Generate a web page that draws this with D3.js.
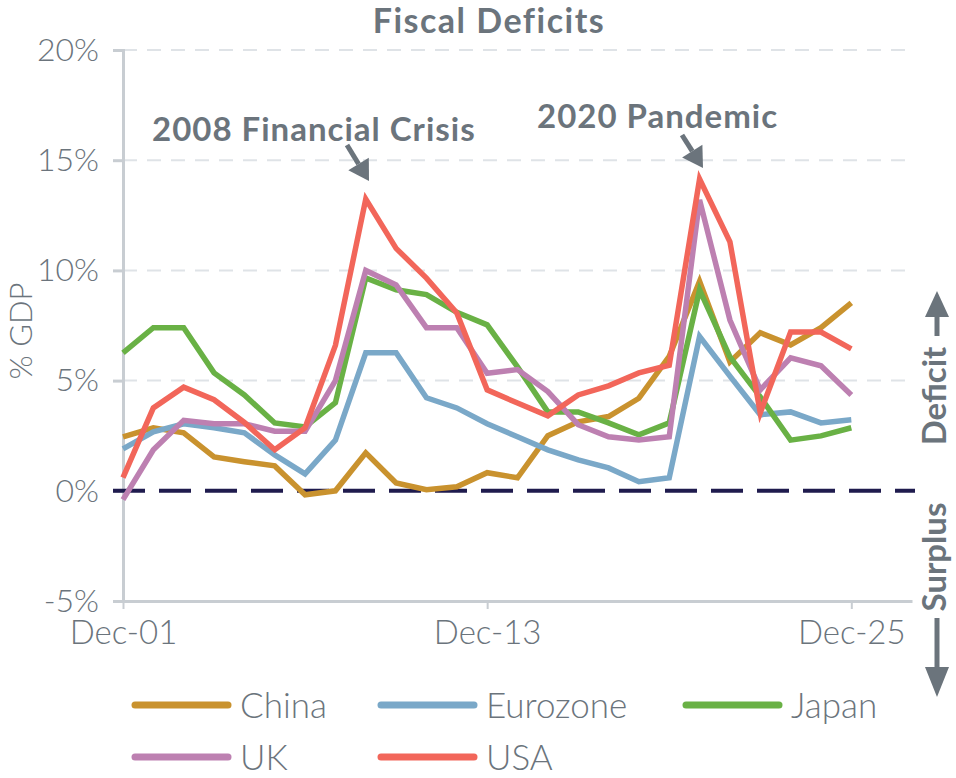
<!DOCTYPE html>
<html>
<head>
<meta charset="utf-8">
<script src="https://cdn.jsdelivr.net/npm/d3@7"></script>
<style>
  body { margin: 0; background: #fff; }
  text { font-family: "Lato", "Noto Sans", sans-serif; }
</style>
</head>
<body>
<svg id="chart" width="956" height="778"></svg>
<script>
// yearly points, Dec-01 .. Dec-25
var years = d3.range(2001, 2026);
var chinaVals = [2.45, 2.86, 2.63, 1.54, 1.32, 1.13, -0.18, 0.0, 1.72, 0.36, 0.05, 0.18, 0.82, 0.59, 2.5, 3.13, 3.37, 4.2, 6.1, 9.5, 5.85, 7.17, 6.62, 7.4, 8.53];
var euroVals  = [1.9, 2.68, 3.04, 2.86, 2.63, 1.63, 0.77, 2.3, 6.26, 6.26, 4.22, 3.76, 3.04, 2.45, 1.86, 1.4, 1.04, 0.41, 0.59, 7.0, 5.2, 3.45, 3.58, 3.08, 3.22];
var japanVals = [6.26, 7.4, 7.4, 5.35, 4.35, 3.08, 2.9, 4.0, 9.66, 9.12, 8.9, 8.1, 7.53, 5.62, 3.58, 3.58, 3.08, 2.54, 3.08, 9.12, 6.08, 4.26, 2.3, 2.49, 2.86];
var ukVals    = [-0.4, 1.86, 3.2, 3.04, 3.04, 2.7, 2.7, 5.0, 10.0, 9.34, 7.4, 7.4, 5.33, 5.5, 4.5, 3.0, 2.45, 2.3, 2.45, 13.2, 7.75, 4.58, 6.03, 5.67, 4.35];
var usaVals   = [0.6, 3.76, 4.7, 4.13, 3.1, 1.86, 2.86, 6.6, 13.24, 11.0, 9.65, 8.07, 4.58, 3.98, 3.4, 4.35, 4.76, 5.35, 5.7, 14.15, 11.3, 3.54, 7.2, 7.2, 6.44];

var seriesNames  = ["China", "Eurozone", "Japan", "UK", "USA"];
var seriesColors = ["#c9922e", "#7aa8c8", "#69b145", "#bd80b1", "#f2665a"];
var seriesVals   = [chinaVals, euroVals, japanVals, ukVals, usaVals];

var yTicks = [-5, 0, 5, 10, 15, 20];
var xTicks = [2001, 2013, 2025];
var xTickLabels = ["Dec-01", "Dec-13", "Dec-25"];

var textCol = "#6b747c";
var axisCol = "#c8cdd2";

var svg = d3.select("#chart");

var x = d3.scaleLinear().domain([2001, 2027]).range([123, 912]);
var y = d3.scaleLinear().domain([-5, 20]).range([601, 50]);

// title
svg.append("text")
  .attr("x", 489).attr("y", 33)
  .attr("text-anchor", "middle")
  .attr("font-size", 34).attr("font-weight", "bold")
  .attr("letter-spacing", 1.5)
  .attr("fill", textCol)
  .text("Fiscal Deficits");

// gridlines
svg.append("g").selectAll("line")
  .data(yTicks.filter(function(d) { return d > 0; }))
  .join("line")
  .attr("x1", 123).attr("x2", 915)
  .attr("y1", function(d) { return y(d); })
  .attr("y2", function(d) { return y(d); })
  .attr("stroke", "#dfe3e7").attr("stroke-width", 2)
  .attr("stroke-dasharray", "14,10");

// y axis
var yAxis = svg.append("g")
  .attr("transform", "translate(123,0)")
  .call(d3.axisLeft(y).tickValues(yTicks).tickSize(10).tickPadding(14)
    .tickFormat(function(d) { return d + "%"; }));
yAxis.select(".domain").attr("stroke", axisCol).attr("stroke-width", 3);
yAxis.selectAll(".tick line").attr("stroke", axisCol).attr("stroke-width", 3);
yAxis.selectAll(".tick text")
  .attr("font-size", 32).attr("fill", textCol).attr("font-weight", 300)
  .attr("font-family", "Lato, sans-serif");

// x axis
var xAxis = svg.append("g")
  .attr("transform", "translate(0,601)")
  .call(d3.axisBottom(x).tickValues(xTicks).tickSize(8).tickPadding(12).tickSizeOuter(0)
    .tickFormat(function(d, i) { return xTickLabels[i]; }));
xAxis.select(".domain").attr("stroke", axisCol).attr("stroke-width", 3);
xAxis.selectAll(".tick line").attr("stroke", axisCol).attr("stroke-width", 2);
xAxis.selectAll(".tick text")
  .attr("font-size", 33).attr("fill", textCol).attr("font-weight", 300)
  .attr("font-family", "Lato, sans-serif");

// y label
svg.append("text")
  .attr("transform", "translate(32,331) rotate(-90)")
  .attr("text-anchor", "middle")
  .attr("font-size", 31).attr("font-weight", 300).attr("fill", textCol)
  .text("% GDP");

// zero line
svg.append("line")
  .attr("x1", 113).attr("x2", 915)
  .attr("y1", y(0)).attr("y2", y(0))
  .attr("stroke", "#1f1b4e").attr("stroke-width", 4)
  .attr("stroke-dasharray", "32,14");

// series lines
var line = d3.line()
  .x(function(d, i) { return x(years[i]); })
  .y(function(d) { return y(d); });

seriesVals.forEach(function(vals, k) {
  svg.append("path")
    .datum(vals)
    .attr("d", line)
    .attr("fill", "none")
    .attr("stroke", seriesColors[k])
    .attr("stroke-width", 5.5)
    .attr("stroke-linejoin", "miter");
});

// annotations
function arrow(x1, y1, x2, y2) {
  var dx = x2 - x1, dy = y2 - y1, len = Math.sqrt(dx * dx + dy * dy);
  var ux = dx / len, uy = dy / len, head = 20, half = 12;
  var bx = x2 - ux * head, by = y2 - uy * head;
  svg.append("line")
    .attr("x1", x1).attr("y1", y1).attr("x2", bx).attr("y2", by)
    .attr("stroke", textCol).attr("stroke-width", 5);
  svg.append("path")
    .attr("d", "M" + x2 + "," + y2 +
      "L" + (bx - uy * half) + "," + (by + ux * half) +
      "L" + (bx + uy * half) + "," + (by - ux * half) + "Z")
    .attr("fill", textCol);
}

svg.append("text")
  .attr("x", 152).attr("y", 141)
  .attr("font-size", 33).attr("font-weight", "bold").attr("letter-spacing", 1)
  .attr("fill", textCol)
  .text("2008 Financial Crisis");
arrow(347, 145, 369, 181);

svg.append("text")
  .attr("x", 537).attr("y", 128)
  .attr("font-size", 33).attr("font-weight", "bold").attr("letter-spacing", 1)
  .attr("fill", textCol)
  .text("2020 Pandemic");
arrow(682, 135, 703, 168);

// deficit / surplus side labels
svg.append("text")
  .attr("transform", "translate(946,396) rotate(-90)")
  .attr("text-anchor", "middle")
  .attr("font-size", 33).attr("font-weight", "bold").attr("fill", textCol)
  .text("Deficit");
svg.append("text")
  .attr("transform", "translate(946,557) rotate(-90)")
  .attr("text-anchor", "middle")
  .attr("font-size", 33).attr("font-weight", "bold").attr("fill", textCol)
  .text("Surplus");
// up arrow
svg.append("line").attr("x1", 937).attr("x2", 937).attr("y1", 336).attr("y2", 314)
  .attr("stroke", textCol).attr("stroke-width", 5);
svg.append("path").attr("d", "M937,291 L925,317 L949,317 Z").attr("fill", textCol);
// down arrow
svg.append("line").attr("x1", 937).attr("x2", 937).attr("y1", 618).attr("y2", 670)
  .attr("stroke", textCol).attr("stroke-width", 5);
svg.append("path").attr("d", "M937,697 L925,667 L949,667 Z").attr("fill", textCol);

// legend
var legendPos = [[135, 705], [381, 705], [686, 705], [135, 757], [381, 757]];
seriesNames.forEach(function(name, k) {
  var p = legendPos[k];
  svg.append("line")
    .attr("x1", p[0]).attr("x2", p[0] + 93)
    .attr("y1", p[1]).attr("y2", p[1])
    .attr("stroke", seriesColors[k]).attr("stroke-width", 7)
    .attr("stroke-linecap", "round");
  svg.append("text")
    .attr("x", p[0] + 105).attr("y", p[1] + 13)
    .attr("font-size", 35).attr("font-weight", 300).attr("fill", textCol)
    .text(name);
});
</script>
</body>
</html>
